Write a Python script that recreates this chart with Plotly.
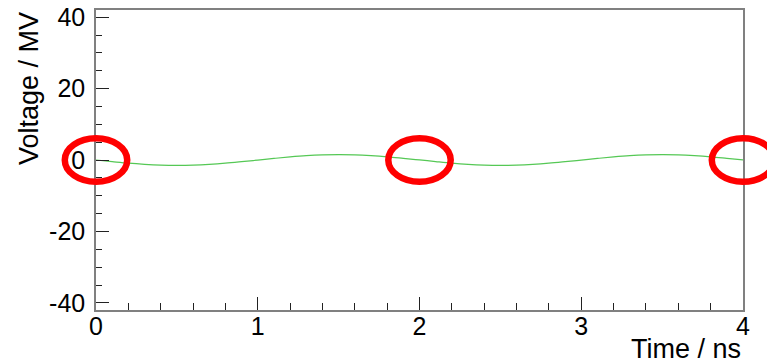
import plotly.graph_objects as go

# Waveform samples: time (ns) and voltage (MV)
time_ns = [0.0, 0.1, 0.2, 0.3, 0.4, 0.5, 0.6, 0.7, 0.8, 0.9,
           1.0, 1.1, 1.2, 1.3, 1.4, 1.5, 1.6, 1.7, 1.8, 1.9,
           2.0, 2.1, 2.2, 2.3, 2.4, 2.5, 2.6, 2.7, 2.8, 2.9,
           3.0, 3.1, 3.2, 3.3, 3.4, 3.5, 3.6, 3.7, 3.8, 3.9, 4.0]
voltage_mv = [0.0, -0.45, -0.88, -1.2, -1.42, -1.5, -1.43, -1.22, -0.9, -0.48,
              -0.02, 0.44, 0.86, 1.2, 1.42, 1.5, 1.44, 1.22, 0.9, 0.47,
              0.02, -0.44, -0.87, -1.2, -1.42, -1.5, -1.43, -1.22, -0.9, -0.48,
              -0.02, 0.44, 0.86, 1.2, 1.42, 1.5, 1.44, 1.22, 0.9, 0.47, 0.02]

# Highlighted zero crossings (ns, MV) and ellipse half-sizes
marker_t = [0.0, 2.0, 4.0]
marker_v = [0.0, 0.0, 0.0]
marker_half_t = 0.193
marker_half_v = 6.1

x_range = [0.0, 4.0]
y_range = [-42.0, 42.0]
x_ticks = [0, 1, 2, 3, 4]
x_tick_labels = ["0", "1", "2", "3", "4"]
y_ticks = [-40, -20, 0, 20, 40]
y_tick_labels = ["-40", "-20", "0", "20", "40"]

FONT = "Liberation Sans, Arial, sans-serif"

fig = go.Figure()
fig.add_trace(go.Scatter(
    x=time_ns, y=voltage_mv, mode="lines", line_shape="spline",
    line=dict(color="rgb(85,200,85)", width=1.2),
    hoverinfo="skip", showlegend=False,
))


def to_dom(v, rng):
    return (v - rng[0]) / (rng[1] - rng[0])


# Ellipses use domain references so they are not clipped at the frame
shapes = []
for t, v in zip(marker_t, marker_v):
    shapes.append(dict(
        type="circle", xref="x domain", yref="y domain",
        x0=to_dom(t - marker_half_t, x_range), x1=to_dom(t + marker_half_t, x_range),
        y0=to_dom(v - marker_half_v, y_range), y1=to_dom(v + marker_half_v, y_range),
        line=dict(color="rgb(255,0,0)", width=6.5), layer="above",
    ))

axis_common = dict(
    showline=True, linecolor="#808080", linewidth=1.5, mirror=True,
    showgrid=False, zeroline=False,
    ticks="inside", tickcolor="#222222", tickwidth=1, ticklen=13,
    tickfont=dict(family=FONT, size=25, color="black"),
    automargin=False,
)

fig.update_layout(
    width=767, height=364,
    margin=dict(l=96, r=24, t=10, b=54),
    paper_bgcolor="white", plot_bgcolor="white",
    xaxis=dict(range=x_range, tickmode="array", tickvals=x_ticks, ticktext=x_tick_labels,
               minor=dict(dtick=0.2, ticks="inside", ticklen=7, tickcolor="#222222", tickwidth=1),
               ticklabelstandoff=-7, **axis_common),
    yaxis=dict(range=y_range, tickmode="array", tickvals=y_ticks, ticktext=y_tick_labels,
               minor=dict(dtick=5, ticks="inside", ticklen=6.5, tickcolor="#222222", tickwidth=1),
               ticklabelstandoff=4, **axis_common),
    shapes=shapes,
    annotations=[
        dict(text="Time / ns", xref="paper", yref="paper", x=1.0, y=-0.13,
             xanchor="right", yanchor="middle", showarrow=False,
             font=dict(family=FONT, size=27, color="black")),
        dict(text="Voltage / MV", xref="paper", yref="paper", x=-0.1036, y=0.74,
             xanchor="center", yanchor="middle", textangle=-90, showarrow=False,
             font=dict(family=FONT, size=27, color="black")),
    ],
    showlegend=False,
)

fig.write_html("out.html")
